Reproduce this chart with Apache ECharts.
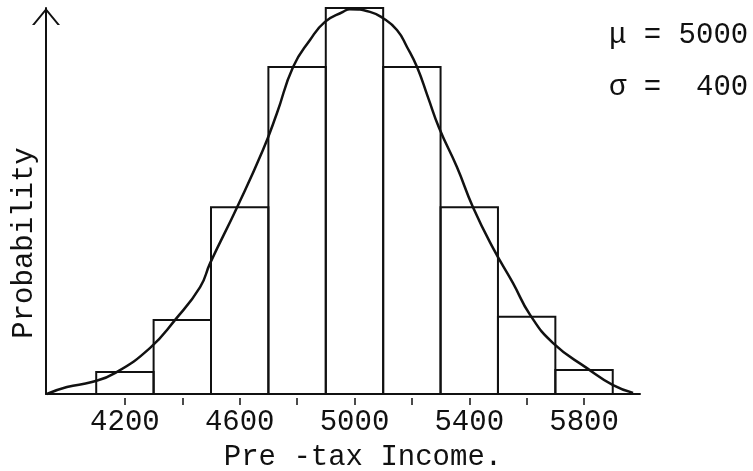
<!DOCTYPE html>
<html>
<head>
<meta charset="utf-8">
<title>Pre-tax Income</title>
<script src="https://cdn.jsdelivr.net/npm/echarts@6/dist/echarts.min.js"></script>
<style>
  html, body { margin: 0; padding: 0; background: #fff; }
  #main { width: 753px; height: 471px; }
</style>
</head>
<body>
<div id="main"></div>
<script>
// histogram bins (edges) and bar heights (relative units, peak = 100)
var binEdges = [4100, 4300, 4500, 4700, 4900, 5100, 5300, 5500, 5700, 5900];
var binHeights = [5.7, 19.2, 48.4, 84.7, 100, 84.7, 48.4, 20.0, 6.2];

// hand drawn curve
var curveX = [3928, 3998, 4085, 4165, 4287, 4375, 4462, 4497, 4591, 4681, 4730, 4786, 4845, 4897, 4960, 4984,
  5054, 5099, 5148, 5183, 5218, 5256, 5295, 5357, 5413, 5483, 5552, 5612, 5692, 5810, 5901, 5971];
var curveY = [0, 1.8, 3.1, 5.4, 11.9, 19.2, 27.7, 33.9, 48.4, 63.2, 72.8, 84.7, 91.7, 96.4, 99.0, 99.7,
  99.0, 97.4, 94.3, 89.9, 84.7, 76.9, 68.9, 58.8, 48.4, 37.8, 28.8, 20.5, 13.2, 6.7, 2.3, 0.3];

var xLabels = [4200, 4600, 5000, 5400, 5800];
var xTicks = [4200, 4400, 4600, 4800, 5000, 5200, 5400, 5600, 5800];

var FONT = '"Liberation Mono", "DejaVu Sans Mono", monospace';
var INK = '#111';

var bars = [];
for (var i = 0; i < binHeights.length; i++) {
  bars.push([binEdges[i], binEdges[i + 1], binHeights[i]]);
}
var curve = curveX.map(function (x, i) { return [x, curveY[i]]; });

var myChart = echarts.init(document.getElementById('main'));

var option = {
  backgroundColor: '#fff',
  animation: false,
  grid: { left: 46, right: 113, top: 8, bottom: 77, outerBoundsMode: 'none', containLabel: false },
  xAxis: {
    type: 'value',
    min: 3925,
    max: 5995,
    splitLine: { show: false },
    axisLine: { lineStyle: { color: INK, width: 2 } },
    axisTick: {
      customValues: xTicks,
      length: 11,
      lineStyle: { color: INK, width: 1.5, type: [0, 4, 7, 30] }
    },
    axisLabel: {
      customValues: xLabels,
      margin: 14,
      color: INK,
      fontFamily: FONT,
      fontSize: 29,
      formatter: function (v) { return String(v); }
    },
    name: 'Pre -tax Income.',
    nameLocation: 'middle',
    nameGap: 49,
    nameTextStyle: { color: INK, fontFamily: FONT, fontSize: 29, padding: [0, 0, 0, 40] }
  },
  yAxis: {
    type: 'value',
    min: 0,
    max: 100,
    splitLine: { show: false },
    axisTick: { show: false },
    axisLabel: { show: false },
    axisLine: {
      lineStyle: { color: INK, width: 2 },
      symbol: ['none', 'path://M0,17 L14,0 L28,17 L25.5,17 L14,3 L2.5,17 Z'],
      symbolSize: [28, 17],
      symbolOffset: [0, -8.5]
    }
  },
  graphic: [
    {
      type: 'text', x: 24, y: 243, rotation: Math.PI / 2,
      style: { text: 'Probability', font: '29px ' + FONT, fill: INK, textAlign: 'center', textVerticalAlign: 'middle' }
    },
    {
      type: 'text', x: 609, y: 35,
      style: { text: 'μ = 5000', font: '29px ' + FONT, fill: INK, textAlign: 'left', textVerticalAlign: 'middle' }
    },
    {
      type: 'text', x: 609, y: 87,
      style: { text: 'σ =  400', font: '29px ' + FONT, fill: INK, textAlign: 'left', textVerticalAlign: 'middle' }
    }
  ],
  series: [
    {
      type: 'custom',
      data: bars,
      clip: false,
      renderItem: function (params, api) {
        var p0 = api.coord([api.value(0), 0]);
        var p1 = api.coord([api.value(1), api.value(2)]);
        return {
          type: 'rect',
          shape: { x: p0[0], y: p1[1], width: p1[0] - p0[0], height: p0[1] - p1[1] },
          style: { fill: 'none', stroke: INK, lineWidth: 2 }
        };
      }
    },
    {
      type: 'line',
      data: curve,
      smooth: 0.5,
      clip: false,
      showSymbol: false,
      lineStyle: { color: INK, width: 2.5 }
    }
  ]
};

myChart.setOption(option);
</script>
</body>
</html>
